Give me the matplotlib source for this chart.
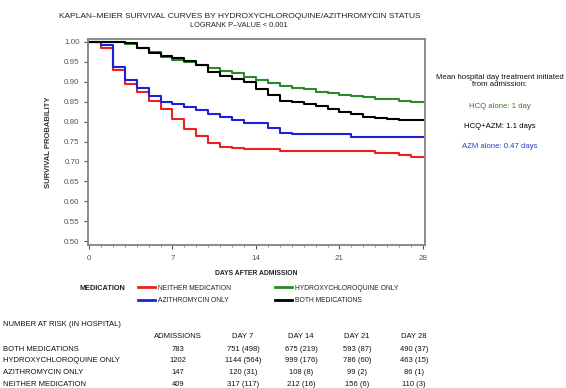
import matplotlib
matplotlib.use("Agg")
import matplotlib.pyplot as plt
from matplotlib.ticker import MultipleLocator, FormatStrFormatter

LIB = ['Liberation Sans', 'DejaVu Sans']

# survival estimate in effect from each day onward (day 0..28)
days = list(range(29))
neither = [1.0, 0.984, 0.930, 0.894, 0.874, 0.853, 0.832, 0.807, 0.781, 0.763,
           0.746, 0.737, 0.733, 0.730, 0.730, 0.730, 0.727, 0.727, 0.727, 0.727,
           0.727, 0.727, 0.727, 0.727, 0.722, 0.722, 0.716, 0.711, 0.711]
azm_only = [1.0, 0.992, 0.938, 0.905, 0.885, 0.864, 0.850, 0.844, 0.837, 0.829,
            0.819, 0.811, 0.803, 0.796, 0.796, 0.783, 0.772, 0.769, 0.769, 0.769,
            0.769, 0.769, 0.762, 0.762, 0.762, 0.762, 0.762, 0.762, 0.762]
hcq_only = [1.0, 1.0, 0.999, 0.995, 0.984, 0.975, 0.962, 0.955, 0.949, 0.943,
            0.934, 0.928, 0.921, 0.913, 0.905, 0.896, 0.889, 0.885, 0.881, 0.875,
            0.872, 0.868, 0.864, 0.861, 0.858, 0.856, 0.853, 0.850, 0.849]
both = [1.0, 1.0, 0.999, 0.997, 0.985, 0.973, 0.964, 0.960, 0.952, 0.942,
        0.925, 0.915, 0.907, 0.900, 0.882, 0.868, 0.852, 0.848, 0.844, 0.838,
        0.832, 0.824, 0.818, 0.812, 0.809, 0.807, 0.805, 0.804, 0.804]

series_labels = ['NEITHER MEDICATION', 'AZITHROMYCIN ONLY',
                 'HYDROXYCHLOROQUINE ONLY', 'BOTH MEDICATIONS']
series_colors = ['#e8231d', '#1f1fd6', '#2a8a2a', '#000000']

# number at risk table
risk_cols = ['ADMISSIONS', 'DAY 7', 'DAY 14', 'DAY 21', 'DAY 28']
risk_rows = ['BOTH MEDICATIONS', 'HYDROXYCHLOROQUINE ONLY',
             'AZITHROMYCIN ONLY', 'NEITHER MEDICATION']
risk_vals = [
    ['783', '751 (498)', '675 (219)', '593 (87)', '490 (37)'],
    ['1202', '1144 (564)', '999 (176)', '786 (60)', '463 (15)'],
    ['147', '120 (31)', '108 (8)', '99 (2)', '86 (1)'],
    ['409', '317 (117)', '212 (16)', '156 (6)', '110 (3)'],
]

W, H = 566, 388
fig = plt.figure(figsize=(W / 100, H / 100), dpi=100)
ax = fig.add_axes([88 / W, 1 - 245 / H, 337 / W, 206 / H])

for vals, lab, col in zip([neither, azm_only, hcq_only, both],
                          series_labels, series_colors):
    ax.step(days, vals, where='post', color=col, lw=1.5, label=lab)

ax.set_xlim(-0.08, 28.17)
ax.set_ylim(0.49, 1.0075)
ax.xaxis.set_major_locator(MultipleLocator(7))
ax.xaxis.set_minor_locator(MultipleLocator(1))
ax.yaxis.set_major_locator(MultipleLocator(0.05))
ax.yaxis.set_major_formatter(FormatStrFormatter('%.2f'))
ax.tick_params(axis='both', labelsize=5.8, colors='#555555', length=3,
               width=0.8, pad=3)
ax.tick_params(axis='x', which='minor', length=1.5, color='#777777')
ax.tick_params(axis='x', pad=4)
for t in ax.get_xticklabels() + ax.get_yticklabels():
    t.set_family(LIB)
for s in ax.spines.values():
    s.set_color('#8a8a8a')
    s.set_linewidth(1.4)

ax.set_ylabel('SURVIVAL PROBABILITY', fontsize=5.5, fontweight='bold',
              family=LIB, color='#333333', labelpad=9)
ax.set_xlabel('DAYS AFTER ADMISSION', fontsize=4.9, fontweight='bold',
              family=LIB, color='#222222', labelpad=6)

fig.text(240 / W, 1 - 16 / H,
         'KAPLAN\u2013MEIER SURVIVAL CURVES BY HYDROXYCHLOROQUINE/AZITHROMYCIN STATUS',
         ha='center', va='center', fontsize=6.0, family=LIB, color='#222222')
fig.text(239 / W, 1 - 25.5 / H, 'LOGRANK P\u2013VALUE < 0.001',
         ha='center', va='center', fontsize=5.3, family=LIB, color='#222222')

# annotation at right
ax_cx = 500 / W
fig.text(ax_cx, 1 - 81 / H, 'Mean hospital day treatment initiated\nfrom admission:',
         ha='center', va='center', fontsize=5.6, family=LIB,
         linespacing=0.95, color='#111111')
fig.text(ax_cx, 1 - 107 / H, 'HCQ alone: 1 day', ha='center', va='center',
         fontsize=5.6, family=LIB, color='#3b7d23')
fig.text(ax_cx, 1 - 127 / H, 'HCQ+AZM: 1.1 days', ha='center', va='center',
         fontsize=5.6, family=LIB, color='#000000')
fig.text(ax_cx, 1 - 147 / H, 'AZM alone: 0.47 days', ha='center', va='center',
         fontsize=5.6, family=LIB, color='#2a3fbf')

# legend
fig.text(80 / W, 1 - 288 / H, 'MEDICATION', ha='left', va='center',
         fontsize=5.3, fontweight='bold', family=LIB, color='#222222')
handles, labels = ax.get_legend_handles_labels()
leg = fig.legend(handles, labels, loc='upper left',
                 bbox_to_anchor=(138 / W, 1 - 284.5 / H), ncol=2,
                 frameon=False, prop={'family': LIB, 'size': 4.9},
                 handlelength=2.5, handletextpad=0.45, columnspacing=6.4,
                 labelspacing=0.85, borderaxespad=0, borderpad=0)
for t in leg.get_texts():
    t.set_color('#222222')
for h in leg.legend_handles:
    h.set_linewidth(2)

# number at risk table
fs = 5.5
fig.text(3 / W, 1 - 325 / H, 'NUMBER AT RISK (IN HOSPITAL)', ha='left',
         va='center', fontsize=fs, family=LIB, color='#111111')
col_x = [178, 243, 301, 357, 414]
for cx, name in zip(col_x, risk_cols):
    fig.text(cx / W, 1 - 337 / H, name, ha='center', va='center',
             fontsize=fs, family=LIB, color='#111111')
row_y = [349.5, 361, 372.5, 384]
for ry, name, vals in zip(row_y, risk_rows, risk_vals):
    fig.text(3 / W, 1 - ry / H, name, ha='left', va='center',
             fontsize=fs, family=LIB, color='#111111')
    for cx, v in zip(col_x, vals):
        fig.text(cx / W, 1 - ry / H, v, ha='center', va='center',
                 fontsize=fs, family=LIB, color='#111111')

fig.savefig('out.png', dpi=100)
